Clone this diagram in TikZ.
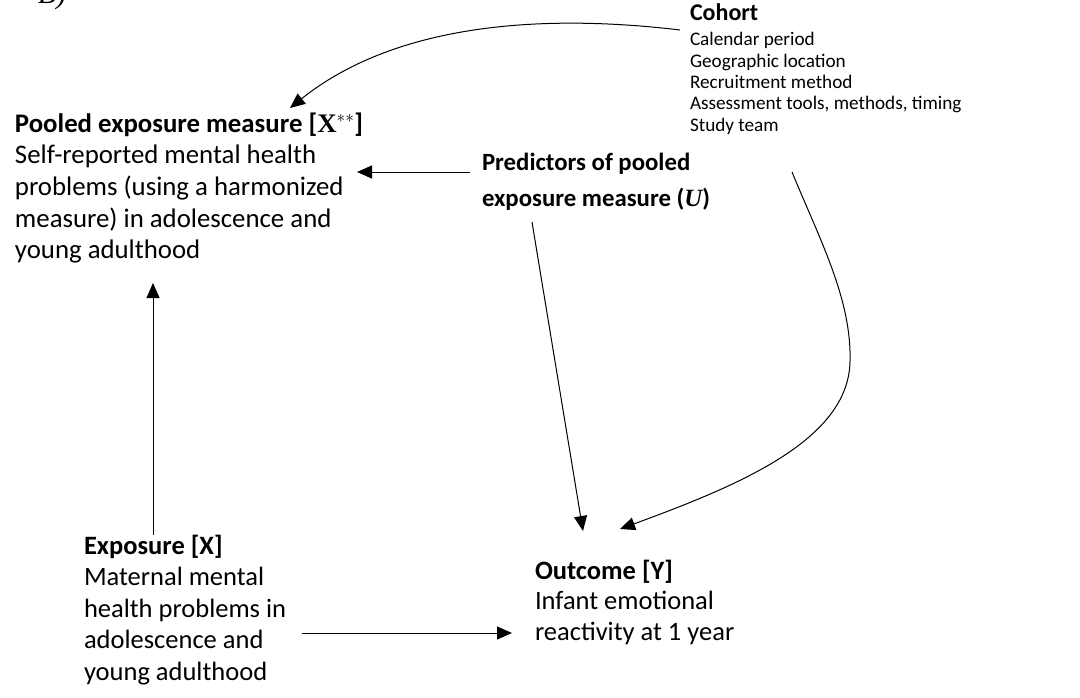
\documentclass[tikz,border=0pt]{standalone}
\usepackage{fontspec}
\setmainfont{Carlito}
\newfontfamily\tnr{Liberation Serif}
\usetikzlibrary{arrows.meta,calc}
\newcommand\blk[1]{\begin{tabular}[t]{@{}l@{}}#1\end{tabular}}
\begin{document}
\begin{tikzpicture}[x=1pt,y=-1pt,
  txt/.style={inner sep=0pt, outer sep=0pt, anchor=base west, text=black},
  arr/.style={-{Triangle[length=15pt,width=13pt]}, line width=1pt, draw=black},
  ]
\useasboundingbox (0,0) rectangle (1080,697);
\node[txt, font=\fontsize{30}{30}\tnr\itshape] (lbl) at (38,3) {B)};

\node[txt, font=\fontsize{26.8}{31.7}\selectfont] (pooled) at (15,132)
  {\blk{\textbf{Pooled exposure measure [}{\tnr\bfseries X}$^{**}$\textbf{]}\\
  Self-reported mental health\\
  problems (using a harmonized\\
  measure) in adolescence and\\
  young adulthood}};

\node[txt, font=\fontsize{24.8}{36}\selectfont\bfseries] (pred) at (482,170)
  {\blk{Predictors of pooled\\
  exposure measure ({\tnr\bfseries\itshape U})}};

\node[txt, font=\fontsize{19.2}{21.3}\selectfont] (cohort) at (690,20)
  {\blk{{\fontsize{24}{24}\selectfont\bfseries Cohort}\\[4.5pt]
  Calendar period\\
  Geographic location\\
  Recruitment method\\
  Assessment tools, methods, timing\\
  Study team}};

\node[txt, font=\fontsize{26.5}{31.5}\selectfont] (expo) at (84,554)
  {\blk{\textbf{Exposure [X]}\\
  Maternal mental\\
  health problems in\\
  adolescence and\\
  young adulthood}};

\node[txt, font=\fontsize{26.5}{30.5}\selectfont] (out) at (535,579)
  {\blk{\textbf{Outcome [Y]}\\
  Infant emotional\\
  reactivity at 1 year}};

% connectors
\draw[arr] ($(cohort.base west)+(-10,10)$) .. controls (580,18) and (410,12) .. ($(pooled.base west)+(275,-24)$);
\draw[arr] ($(pred.base west)+(-12,2)$) -- ($(pooled.base west)+(342,40)$);
\draw[arr] ($(pred.base west)+(50,52)$) -- ($(out.base west)+(48,-48)$);
\draw[arr] ($(cohort.base west)+(102,152)$) .. controls (820,240) and (852,300) .. (850,362)
  .. controls (848,440) and (740,485) .. ($(out.base west)+(85,-50)$);
\draw[arr] ($(expo.base west)+(69,-19)$) -- ($(pooled.base west)+(138,151)$);
\draw[arr] ($(expo.base west)+(218,79)$) -- ($(out.base west)+(-23,54)$);
\end{tikzpicture}
\end{document}
